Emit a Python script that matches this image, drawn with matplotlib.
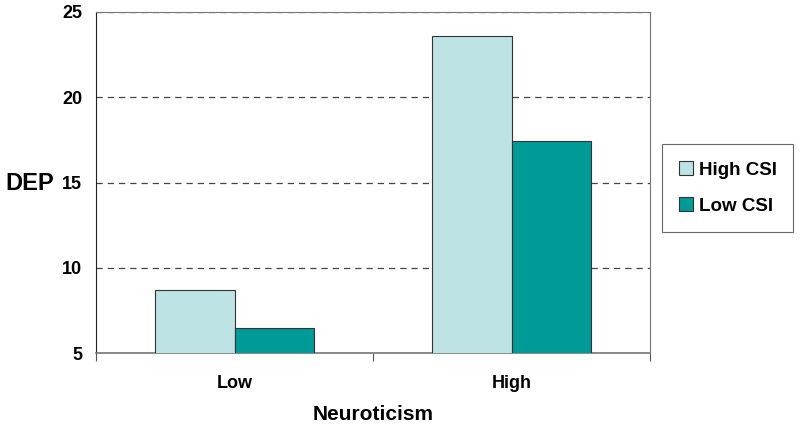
import matplotlib.pyplot as plt
import numpy as np

# donnees
categories = ['Low', 'High']
series = ['High CSI', 'Low CSI']
high_csi = [8.7, 23.6]
low_csi = [6.45, 17.45]
couleurs = ['#BDE2E3', '#009A98']

plt.rcParams['font.family'] = ['Liberation Sans', 'DejaVu Sans']
plt.rcParams['font.weight'] = 'bold'

fig = plt.figure(figsize=(8, 4.29), dpi=100)
ax = fig.add_axes([96/800, 1-353/429, 554/800, 341/429])

x = np.arange(len(categories))
w = 0.287
ax.bar(x - w/2, high_csi, w, color=couleurs[0], edgecolor='#333333', linewidth=0.8, label=series[0], zorder=3)
ax.bar(x + w/2, low_csi, w, color=couleurs[1], edgecolor='#333333', linewidth=0.8, label=series[1], zorder=3)

ax.set_xlim(-0.5, 1.5)
ax.set_ylim(5, 25)
ax.set_yticks([5, 10, 15, 20, 25])
ax.yaxis.grid(True, linestyle=(0, (5, 4)), color='#444444', linewidth=0.9)
ax.set_axisbelow(True)

# ticks x entre categories
ax.set_xticks([-0.5, 0.5, 1.5])
ax.set_xticklabels([])
ax.set_xticks(x, minor=True)
ax.set_xticklabels(categories, minor=True, fontsize=13, fontweight='bold')
ax.tick_params(axis='x', which='major', length=6, direction='out', color='#555555')
ax.tick_params(axis='x', which='minor', length=0, pad=16)
ax.tick_params(axis='y', length=0, labelsize=13, pad=10)
for t in ax.get_yticklabels():
    t.set_fontweight('bold')

for s in ['top', 'right', 'bottom']:
    ax.spines[s].set_color('#777777')
ax.spines['left'].set_color('#222222')
ax.spines['bottom'].set_linewidth(1.2)

fig.text(5/800, 1-183/429, 'DEP', fontsize=17, fontweight='bold', va='center', ha='left')
fig.text(373/800, 1-414/429, 'Neuroticism', fontsize=15, fontweight='bold', va='center', ha='center')

leg = ax.legend(loc='center left', bbox_to_anchor=(662/800, 1-188/429), bbox_transform=fig.transFigure,
                fontsize=13.5, frameon=True, fancybox=False, edgecolor='#444444',
                handlelength=0.75, handleheight=0.75, handletextpad=0.3, labelspacing=1.0,
                borderpad=0.9, borderaxespad=0)
leg.get_frame().set_linewidth(0.8)
for t in leg.get_texts():
    t.set_fontweight('bold')

fig.savefig('out.png', dpi=100)
